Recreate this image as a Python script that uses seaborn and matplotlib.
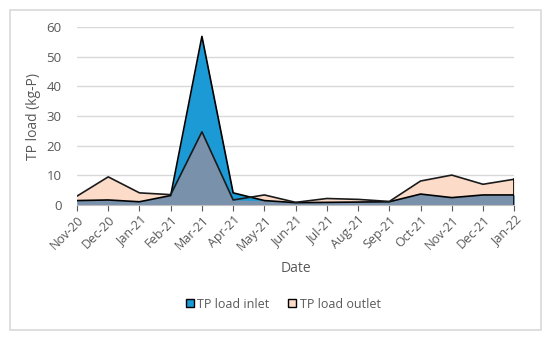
import numpy as np
import pandas as pd
import matplotlib.pyplot as plt
import seaborn as sns
from matplotlib.patches import Rectangle

dates = ['Nov-20', 'Dec-20', 'Jan-21', 'Feb-21', 'Mar-21', 'Apr-21', 'May-21', 'Jun-21',
         'Jul-21', 'Aug-21', 'Sep-21', 'Oct-21', 'Nov-21', 'Dec-21', 'Jan-22']
inlet = [1.5, 1.7, 1.1, 3.2, 56.9, 4.1, 1.5, 0.8, 0.9, 1.0, 1.1, 3.7, 2.5, 3.4, 3.4]
outlet = [3.0, 9.5, 4.1, 3.5, 24.7, 1.7, 3.4, 0.9, 2.2, 1.9, 1.2, 8.1, 10.1, 7.0, 8.7]

df = pd.DataFrame({'Date': dates, 'inlet': inlet, 'outlet': outlet})
df['pos'] = np.arange(len(df))

sns.set_style('white')
plt.rcParams['font.family'] = ['Open Sans', 'DejaVu Sans']
grey = '#595959'

fig = plt.figure(figsize=(5.5, 3.4), dpi=100)
ax = fig.add_axes([0.14, 0.397, 0.795, 0.523])

blue = '#1b9ad6'
peach = '#fcdcc8'
mix = '#7a91ac'

ax.fill_between(df['pos'], 0, df['outlet'], color=peach, lw=0, zorder=2)
ax.fill_between(df['pos'], 0, df['inlet'], color=blue, lw=0, zorder=2)
ax.fill_between(df['pos'], 0, np.minimum(df['inlet'], df['outlet']), color=mix, lw=0, zorder=3)
sns.lineplot(data=df, x='pos', y='inlet', color='black', lw=1.2, ax=ax, zorder=4)
sns.lineplot(data=df, x='pos', y='outlet', color='#1a1a1a', lw=1.2, ax=ax, zorder=4)
ax.plot([14, 14], [0, max(inlet[-1], outlet[-1])], color='black', lw=1.2, zorder=4)

ax.set_xlim(0, 14)
ax.set_ylim(0, 60)
ax.set_yticks(range(0, 61, 10))
ax.set_xticks(df['pos'])
ax.set_xticklabels(dates, rotation=45, ha='right', rotation_mode='anchor')
ax.tick_params(axis='x', colors=grey, labelsize=9, length=4, width=0.8, direction='out',
               bottom=True, pad=2)
ax.tick_params(axis='y', colors=grey, labelsize=9.5, length=0, pad=11)
ax.grid(axis='y', color='#d9d9d9', lw=1, zorder=0)
ax.set_axisbelow(True)
for s in ['top', 'right', 'left']:
    ax.spines[s].set_visible(False)
ax.spines['bottom'].set_color('#bfbfbf')
ax.spines['bottom'].set_zorder(5)

ax.set_xlabel('Date', color=grey, fontsize=10, labelpad=6)
ax.set_ylabel('TP load (kg-P)', color=grey, fontsize=10, labelpad=4)

handles = [plt.Rectangle((0, 0), 1, 1, fc=blue, ec='black', lw=1),
           plt.Rectangle((0, 0), 1, 1, fc=peach, ec='black', lw=1)]
fig.legend(handles, ['TP load inlet', 'TP load outlet'], loc='center', ncol=2,
           bbox_to_anchor=(0.515, 0.105), frameon=False, fontsize=9,
           handlelength=0.6, handleheight=0.6, handletextpad=0.3, columnspacing=1.5,
           labelcolor=grey)

fig.patches.append(Rectangle((10 / 550, 10 / 340), 531 / 550, 320 / 340, transform=fig.transFigure,
                             fill=False, ec='#d9d9d9', lw=1.2))

fig.savefig('out.png', dpi=100)
